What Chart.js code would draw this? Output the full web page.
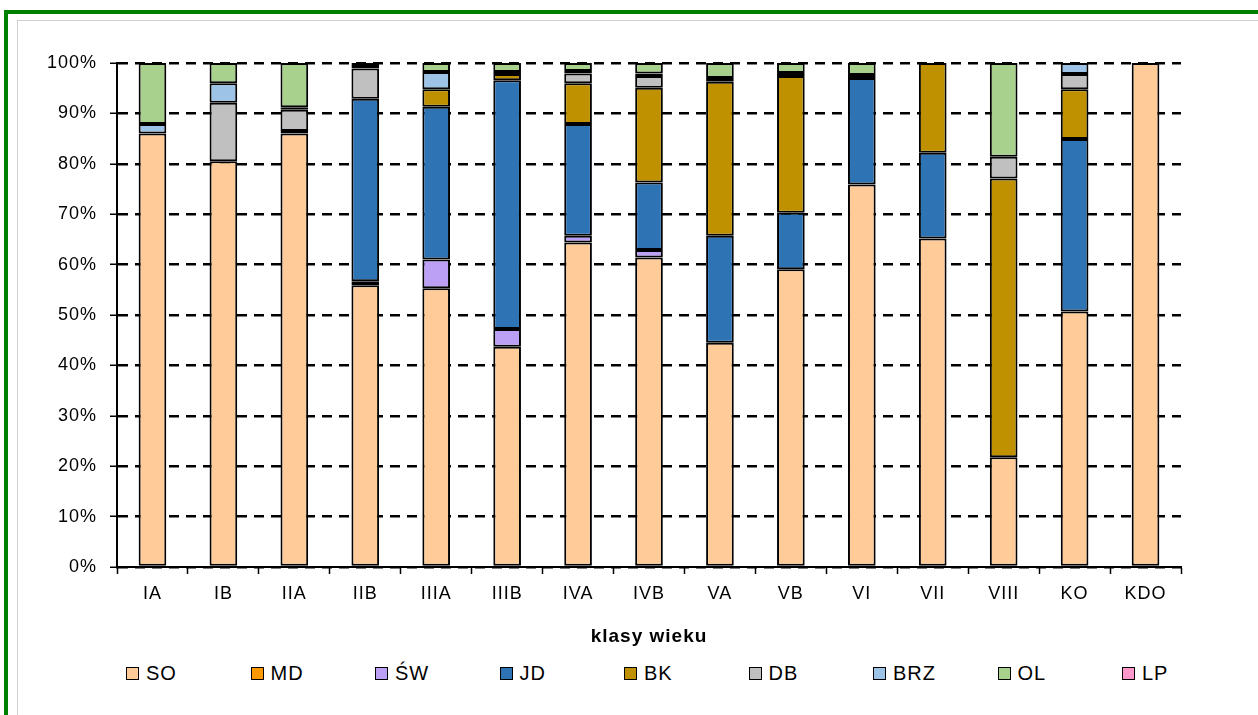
<!DOCTYPE html>
<html>
<head>
<meta charset="utf-8">
<script src="https://cdn.jsdelivr.net/npm/chart.js@4"></script>
<style>
  body { margin: 0; background: #fff; width: 1258px; height: 715px; overflow: hidden; position: relative; font-family: 'Liberation Sans', Arial, sans-serif; }
  #frame { position: absolute; left: 4px; top: 10px; width: 1260px; height: 710px; border-top: 4px solid #008000; border-left: 4px solid #008000; }
  #inner { position: absolute; left: 17px; top: 20px; width: 1250px; height: 700px; border-top: 1px solid #d0d0d0; border-left: 1px solid #d0d0d0; }
  #wrap { position: absolute; left: 0; top: 0; width: 1258px; height: 660px; }
  #legend { position: absolute; left: 0; top: 660px; width: 1258px; height: 26px; }
  .item { position: absolute; top: 0; height: 26px; display: flex; align-items: center; font-size: 20px; letter-spacing: 1px; color: #000; }
  .box { width: 11px; height: 11px; border: 1px solid #000; margin-right: 7px; }
</style>
</head>
<body>
<div id="frame"></div>
<div id="inner"></div>
<div id="wrap"><canvas id="myChart"></canvas></div>
<div id="legend"></div>
<script>
'use strict';
let ageClasses = ['IA', 'IB', 'IIA', 'IIB', 'IIIA', 'IIIB', 'IVA', 'IVB', 'VA', 'VB', 'VI', 'VII', 'VIII', 'KO', 'KDO']
let yTicks = [0, 10, 20, 30, 40, 50, 60, 70, 80, 90, 100]

// udzial gatunkow w % (od dolu slupka)
let soValues  = [86.0, 80.5, 86.0, 55.9, 55.3, 43.7, 64.4, 61.4, 44.5, 59.1, 75.9, 65.2, 21.8, 50.7, 100]
let mdValues  = [0, 0, 0, 0, 0, 0, 0, 0, 0, 0, 0, 0, 0, 0, 0]
let swValues  = [0, 0, 0, 0.8, 5.7, 3.5, 1.3, 1.5, 0, 0, 0, 0, 0, 0, 0]
let jdValues  = [0, 0, 0.5, 36.2, 30.3, 49.4, 22.2, 13.4, 21.2, 11.2, 21.1, 17.0, 0, 34.2, 0]
let bkValues  = [0, 0, 0, 0, 3.5, 1.2, 8.1, 18.8, 30.6, 27.1, 0, 17.8, 55.3, 9.9, 0]
let dbValues  = [0, 11.6, 4.2, 6.0, 0, 0.4, 1.9, 2.3, 0.7, 0.6, 0.6, 0, 4.3, 3.0, 0]
let brzValues = [1.9, 3.9, 0.5, 0.3, 3.4, 0, 0.5, 0.5, 0, 0, 0, 0, 0, 2.2, 0]
let olValues  = [12.1, 4.0, 8.8, 0.8, 1.8, 1.8, 1.6, 2.1, 3.0, 2.0, 2.4, 0, 18.6, 0, 0]
let lpValues  = [0, 0, 0, 0, 0, 0, 0, 0, 0, 0, 0, 0, 0, 0, 0]

let speciesNames = ['SO', 'MD', 'ŚW', 'JD', 'BK', 'DB', 'BRZ', 'OL', 'LP']
let speciesValues = [soValues, mdValues, swValues, jdValues, bkValues, dbValues, brzValues, olValues, lpValues]
let speciesColors = ['#FFCC99', '#FF9900', '#BBA0F5', '#2E74B5', '#BF9000', '#C0C0C0', '#9DC3E6', '#A9D18E', '#FF99CC']

let fontFamily = "'Liberation Sans', Arial, sans-serif"

let datasets = []
for (let i = 0; i < speciesNames.length; i++) {
  datasets.push({
    label: speciesNames[i],
    // zera pomijamy, zeby nie rysowac pustych ramek
    data: speciesValues[i].map(v => v === 0 ? null : v),
    backgroundColor: speciesColors[i],
    borderColor: '#000',
    borderWidth: 2,
    borderSkipped: false,
    barPercentage: 0.39,
    categoryPercentage: 1
  })
}

// odstepy liter jak w Excelu
const spacingPlugin = {
  id: 'spacing',
  beforeLayout(chart) { chart.ctx.letterSpacing = '1px' },
  beforeDraw(chart) { chart.ctx.letterSpacing = '1px' }
}

const ctx = document.getElementById('myChart');
const myChart = new Chart(ctx, {
  type: 'bar',
  data: { labels: ageClasses, datasets: datasets },
  options: {
    responsive: true,
    maintainAspectRatio: false,
    animation: false,
    layout: { padding: { top: 63, right: 77, bottom: 0, left: 0 } },
    plugins: { legend: { display: false }, tooltip: { enabled: false } },
    scales: {
      x: {
        stacked: true,
        afterFit(scale) { scale.height = 93 },
        grid: { display: true, drawOnChartArea: false, drawTicks: true, tickLength: 7, tickColor: '#000', tickWidth: 1.5, offset: true },
        border: { display: true, color: '#000', width: 2 },
        ticks: { color: '#000', padding: 9, font: { family: fontFamily, size: 18 } },
        title: { display: true, text: 'klasy wieku', color: '#000', padding: { top: 0, bottom: 12 }, font: { family: fontFamily, size: 19, weight: 'bold' } }
      },
      y: {
        stacked: true,
        min: 0,
        max: 100,
        afterFit(scale) { scale.width = 117 },
        afterBuildTicks(scale) { scale.ticks = yTicks.map(v => ({ value: v })) },
        grid: { color: '#000', lineWidth: 2.5, drawTicks: true, tickLength: 7, tickColor: '#000', tickWidth: 1.5, tickBorderDash: [] },
        border: { display: true, color: '#000', width: 2, dash: [10, 7] },
        ticks: { color: '#000', padding: 13, font: { family: fontFamily, size: 18 }, callback: v => v + '%' }
      }
    }
  },
  plugins: [spacingPlugin]
});

// legenda w rownych kolumnach
let legendDiv = document.getElementById('legend')
for (let i = 0; i < speciesNames.length; i++) {
  let item = document.createElement('div')
  item.className = 'item'
  item.style.left = (126 + i * 124.5) + 'px'
  let box = document.createElement('span')
  box.className = 'box'
  box.style.background = speciesColors[i]
  item.appendChild(box)
  item.appendChild(document.createTextNode(speciesNames[i]))
  legendDiv.appendChild(item)
}
</script>
</body>
</html>
